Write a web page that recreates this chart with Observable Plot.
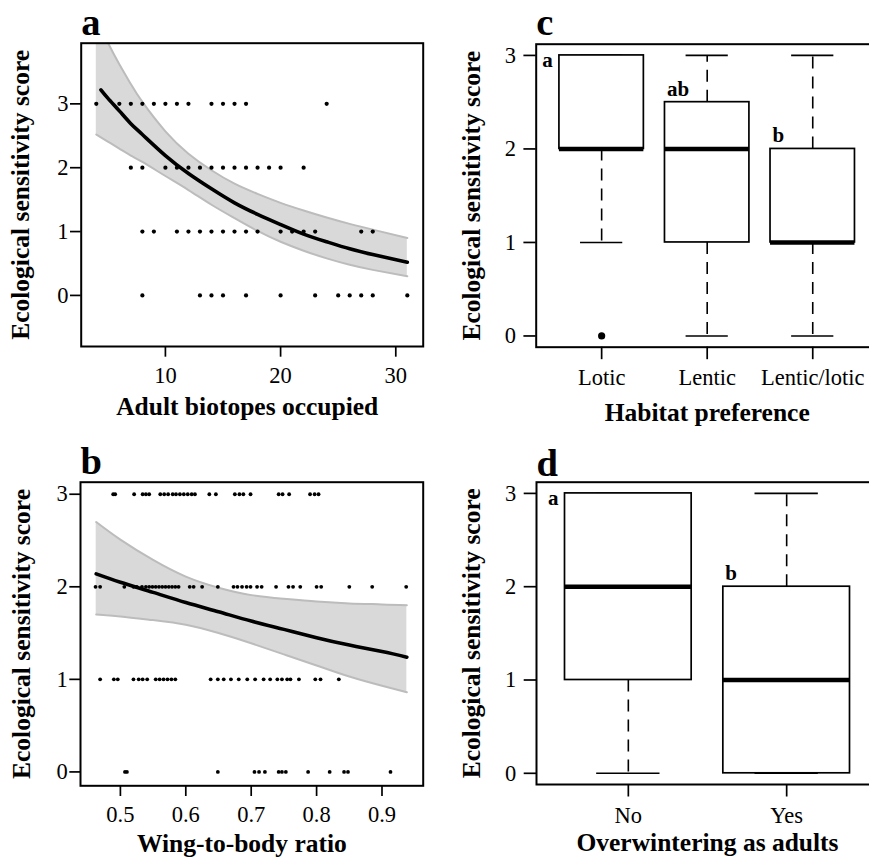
<!DOCTYPE html>
<html>
<head>
<meta charset="utf-8">
<script src="https://cdn.jsdelivr.net/npm/d3@7"></script>
<script src="https://cdn.jsdelivr.net/npm/@observablehq/plot@0.6"></script>
<style>
  html, body { margin: 0; padding: 0; background: #fff; }
  #fig { position: relative; width: 869px; height: 859px; overflow: hidden; background: #fff; }
  #fig > svg { position: absolute; }
</style>
</head>
<body>
<div id="fig"></div>
<script>
// ---------- (a) sensitivity score vs. number of adult biotopes occupied ----------
const biotopesScore3 = [4, 6, 7, 8, 9, 10, 11, 12, 14, 15, 16, 17, 24];
const biotopesScore2 = [7, 8, 10, 11, 12, 13, 14, 15, 16, 17, 18, 19, 20, 22];
const biotopesScore1 = [8, 9, 11, 12, 13, 14, 15, 16, 17, 18, 20, 21, 22, 23, 27, 28];
const biotopesScore0 = [8, 13, 14, 15, 17, 20, 23, 25, 26, 27, 28, 31];

// fitted Poisson model and its confidence band
const biotopesBandX  = [4, 5, 6, 7, 8, 10, 12, 14, 16, 18, 20, 22, 24, 26, 28, 31];
const biotopesBandLo = [2.52, 2.41, 2.30, 2.19, 2.09, 1.87, 1.65, 1.42, 1.21, 1.01, 0.84, 0.70, 0.58, 0.48, 0.40, 0.30];
const biotopesBandHi = [4.34, 3.96, 3.62, 3.31, 3.03, 2.57, 2.22, 1.96, 1.75, 1.59, 1.45, 1.33, 1.22, 1.12, 1.03, 0.90];
const biotopesFitX   = [4.4, 5, 6, 7, 8, 10, 12, 14, 16, 18, 20, 22, 24, 26, 28, 31];
const biotopesFitY   = [3.22, 3.09, 2.89, 2.69, 2.52, 2.19, 1.91, 1.67, 1.45, 1.27, 1.11, 0.96, 0.84, 0.73, 0.64, 0.52];

// ---------- (b) sensitivity score vs. wing-to-body ratio ----------
const wingScore3 = [0.489, 0.492, 0.521, 0.534, 0.539, 0.544, 0.561, 0.567, 0.573, 0.580, 0.585, 0.591, 0.597,
                    0.603, 0.609, 0.614, 0.636, 0.646, 0.675, 0.682, 0.688, 0.699, 0.742, 0.748, 0.758, 0.790, 0.797, 0.803];
const wingScore2 = [0.462, 0.469, 0.506, 0.520, 0.525, 0.533, 0.539, 0.544, 0.549, 0.554, 0.559, 0.564, 0.569,
                    0.574, 0.579, 0.584, 0.589, 0.606, 0.612, 0.625, 0.649, 0.673, 0.679, 0.686, 0.693, 0.699,
                    0.709, 0.716, 0.738, 0.757, 0.764, 0.775, 0.800, 0.807, 0.850, 0.885, 0.937];
const wingScore1 = [0.469, 0.490, 0.496, 0.520, 0.528, 0.534, 0.541, 0.554, 0.560, 0.566, 0.572, 0.578, 0.584,
                    0.638, 0.649, 0.658, 0.669, 0.681, 0.694, 0.706, 0.719, 0.729, 0.740, 0.747, 0.755, 0.760,
                    0.773, 0.798, 0.806, 0.834];
const wingScore0 = [0.507, 0.510, 0.649, 0.705, 0.712, 0.721, 0.742, 0.747, 0.753, 0.787, 0.820, 0.842, 0.848, 0.913];

const wingFitX = [0.463, 0.5, 0.55, 0.6, 0.65, 0.7, 0.75, 0.8, 0.85, 0.9, 0.938];
const wingFitY = [2.14, 2.05, 1.94, 1.83, 1.73, 1.63, 1.54, 1.45, 1.37, 1.30, 1.24];
const wingLo   = [1.70, 1.68, 1.64, 1.59, 1.50, 1.39, 1.27, 1.15, 1.03, 0.93, 0.86];
const wingHi   = [2.70, 2.51, 2.29, 2.11, 1.99, 1.91, 1.87, 1.84, 1.82, 1.81, 1.80];

// ---------- (c) habitat preference ----------
const habitat        = ["Lotic", "Lentic", "Lentic/lotic"];
const habitatMin     = [1, 0, 0];
const habitatQ1      = [2, 1, 1];
const habitatMedian  = [2, 2, 1];
const habitatQ3      = [3, 2.5, 2];
const habitatMax     = [3, 3, 3];
const habitatOutlier = [{group: "Lotic", value: 0}];
const habitatLetters = ["a", "ab", "b"];

// ---------- (d) overwintering as adults ----------
const overwinter        = ["No", "Yes"];
const overwinterMin     = [0, 0];
const overwinterQ1      = [1, 0];
const overwinterMedian  = [2, 1];
const overwinterQ3      = [3, 2];
const overwinterMax     = [3, 3];
const overwinterLetters = ["a", "b"];

const scoreTicks = [0, 1, 2, 3];
const yTitle = "Ecological sensitivity score";

// ---------- shared helpers ----------
const serif = "Liberation Serif, Times New Roman, Times, serif";
const fig = document.getElementById("fig");

function place(svg, left, top) {
  svg.style.left = left + "px";
  svg.style.top = top + "px";
  fig.appendChild(svg);
}

const rows = (values, score) => values.map(x => ({x, y: score}));
const zip = (xs, cols) => xs.map((x, i) => Object.fromEntries([["x", x], ...Object.entries(cols).map(([k, v]) => [k, v[i]])]));

function panelLetter(letter, dy) {
  return Plot.text([letter], {
    text: d => d, frameAnchor: "top-left", textAnchor: "start", lineAnchor: "bottom",
    dx: 0, dy, fontSize: 38.5, fontWeight: "bold", fontFamily: serif, fill: "black"
  });
}
function xTitle(label, dy, dx = 0) {
  return Plot.text([label], {
    text: d => d, frameAnchor: "bottom", textAnchor: "middle", lineAnchor: "bottom",
    dx, dy, fontSize: 25.5, fontWeight: "bold", fontFamily: serif, fill: "black"
  });
}
function yTitleMark(dx) {
  return Plot.text([yTitle], {
    text: d => d, frameAnchor: "left", textAnchor: "middle", lineAnchor: "bottom",
    rotate: -90, dx, fontSize: 25.5, fontWeight: "bold", fontFamily: serif, fill: "black"
  });
}
const baseStyle = {fontFamily: serif, fontSize: "22.5px", color: "black", background: "white"};

// ---------- scatter panels ----------
function scatterPanel({points, band, fit, xDomain, yDomain, xTicks, xFormat, frame, size, letter, letterDy, xLabel, xLabelDy, xLabelDx, yLabelDx, r}) {
  const [L, T, R, B] = frame;
  return Plot.plot({
    width: size[0], height: size[1],
    marginLeft: L, marginTop: T, marginRight: size[0] - R, marginBottom: size[1] - B,
    x: {domain: xDomain}, y: {domain: yDomain},
    style: baseStyle,
    marks: [
      Plot.areaY(band, {x: "x", y1: "lo", y2: "hi", fill: "#d9d9d9", curve: "natural", clip: true}),
      Plot.line(band, {x: "x", y: "hi", stroke: "#bcbcbc", strokeWidth: 2, curve: "natural", clip: true}),
      Plot.line(band, {x: "x", y: "lo", stroke: "#bcbcbc", strokeWidth: 2, curve: "natural", clip: true}),
      Plot.dot(points, {x: "x", y: "y", r, fill: "black", stroke: null}),
      Plot.line(fit, {x: "x", y: "y", stroke: "black", strokeWidth: 3.6, curve: "natural", clip: true}),
      Plot.frame({stroke: "black", strokeWidth: 2}),
      Plot.axisX({ticks: xTicks, tickFormat: xFormat, tickSize: 10.7, tickPadding: 9.5, label: null,
                  fontSize: 22.5, fontFamily: serif, strokeWidth: 1.7}),
      Plot.axisY({ticks: scoreTicks, tickFormat: d3.format("d"), tickSize: 10.7, tickPadding: 2, label: null,
                  fontSize: 22.5, fontFamily: serif, strokeWidth: 1.7}),
      panelLetter(letter, letterDy),
      xTitle(xLabel, xLabelDy, xLabelDx),
      yTitleMark(yLabelDx)
    ]
  });
}

place(scatterPanel({
  points: [...rows(biotopesScore3, 3), ...rows(biotopesScore2, 2), ...rows(biotopesScore1, 1), ...rows(biotopesScore0, 0)],
  band: zip(biotopesBandX, {lo: biotopesBandLo, hi: biotopesBandHi}),
  fit: zip(biotopesFitX, {y: biotopesFitY}),
  xDomain: [2.69, 32.38], yDomain: [-0.8, 3.95], xTicks: [10, 20, 30], xFormat: d3.format("d"),
  frame: [80.7, 42.7, 422.7, 346], size: [440, 430],
  letter: "a", letterDy: -8.4, xLabel: "Adult biotopes occupied", xLabelDy: 68, xLabelDx: -5, yLabelDx: -51.7, r: 2.1
}), 0, 0);

place(scatterPanel({
  points: [...rows(wingScore3, 3), ...rows(wingScore2, 2), ...rows(wingScore1, 1), ...rows(wingScore0, 0)],
  band: zip(wingFitX, {lo: wingLo, hi: wingHi}),
  fit: zip(wingFitX, {y: wingFitY}),
  xDomain: [0.439, 0.963], yDomain: [-0.15, 3.13], xTicks: [0.5, 0.6, 0.7, 0.8, 0.9], xFormat: d3.format(".1f"),
  frame: [80, 51.7, 422.7, 355.3], size: [440, 429],
  letter: "b", letterDy: -8.4, xLabel: "Wing-to-body ratio", xLabelDy: 66.4, xLabelDx: -10, yLabelDx: -50.8, r: 1.9
}), 0, 430);

// ---------- box-plot panels ----------
function boxPanel({groups, mins, q1s, meds, q3s, maxs, letters, outliers, paddingOuter, frame, size, letter, letterDy, xLabel, xLabelDy, yLabelDx}) {
  const [L, T, B] = frame;
  const innerW = 342;
  const step = innerW / (groups.length - 0.2 + 2 * paddingOuter);
  const half = step * 0.4;
  const stats = groups.map((g, i) => ({group: g, min: mins[i], q1: q1s[i], median: meds[i], q3: q3s[i], max: maxs[i], letter: letters[i]}));
  const inside = stats.filter(d => d.q3 >= 3);
  const above = stats.filter(d => d.q3 < 3);
  const whisker = {stroke: "black", strokeWidth: 1.6, strokeDasharray: "12,8"};
  return Plot.plot({
    width: L + innerW + 10, height: size[1],
    marginLeft: L, marginTop: T, marginRight: 10, marginBottom: size[1] - B,
    x: {type: "band", domain: groups, paddingInner: 0.2, paddingOuter, align: 0.5, round: false},
    y: {domain: [-0.12, 3.12]},
    style: baseStyle,
    marks: [
      Plot.ruleX(stats.filter(d => d.max > d.q3), {x: "group", y1: "q3", y2: "max", ...whisker}),
      Plot.ruleX(stats.filter(d => d.min < d.q1), {x: "group", y1: "q1", y2: "min", ...whisker}),
      Plot.tickY(stats, {x: "group", y: "max", stroke: "black", strokeWidth: 1.6, inset: half / 2}),
      Plot.tickY(stats, {x: "group", y: "min", stroke: "black", strokeWidth: 1.6, inset: half / 2}),
      Plot.barY(stats, {x: "group", y1: "q1", y2: "q3", fill: "white", stroke: "black", strokeWidth: 1.7}),
      Plot.tickY(stats, {x: "group", y: "median", stroke: "black", strokeWidth: 4.6}),
      Plot.dot(outliers, {x: "group", y: "value", r: 3.6, fill: "black", stroke: null}),
      Plot.text(inside, {x: "group", y: () => 2.88, text: "letter", textAnchor: "end", lineAnchor: "bottom",
                         dx: -half - 6.6, fontSize: 21, fontWeight: "bold", fontFamily: serif, fill: "black"}),
      Plot.text(above, {x: "group", y: d => d.q3 + 0.07, text: "letter", textAnchor: "start", lineAnchor: "bottom",
                        dx: -half + 2, fontSize: 21, fontWeight: "bold", fontFamily: serif, fill: "black"}),
      Plot.frame({stroke: "black", strokeWidth: 2}),
      Plot.axisX({tickSize: 12.5, tickPadding: 9.7, label: null, fontSize: 22.5, fontFamily: serif, strokeWidth: 1.7}),
      Plot.axisY({ticks: scoreTicks, tickFormat: d3.format("d"), tickSize: 12.3, tickPadding: 8, label: null,
                  fontSize: 22.5, fontFamily: serif, strokeWidth: 1.7}),
      panelLetter(letter, letterDy),
      xTitle(xLabel, xLabelDy),
      yTitleMark(yLabelDx)
    ]
  });
}

place(boxPanel({
  groups: habitat, mins: habitatMin, q1s: habitatQ1, meds: habitatMedian, q3s: habitatQ3, maxs: habitatMax,
  letters: habitatLetters, outliers: habitatOutlier, paddingOuter: 0.22,
  frame: [95.7, 43.7, 346.7], size: [0, 430],
  letter: "c", letterDy: -8.7, xLabel: "Habitat preference", xLabelDy: 74, yLabelDx: -56
}), 440, 0);

place(boxPanel({
  groups: overwinter, mins: overwinterMin, q1s: overwinterQ1, meds: overwinterMedian, q3s: overwinterQ3, maxs: overwinterMax,
  letters: overwinterLetters, outliers: [], paddingOuter: 0.18,
  frame: [96, 51.7, 354], size: [0, 429],
  letter: "d", letterDy: -6.7, xLabel: "Overwintering as adults", xLabelDy: 66.7, yLabelDx: -56.2
}), 440, 430);
</script>
</body>
</html>
